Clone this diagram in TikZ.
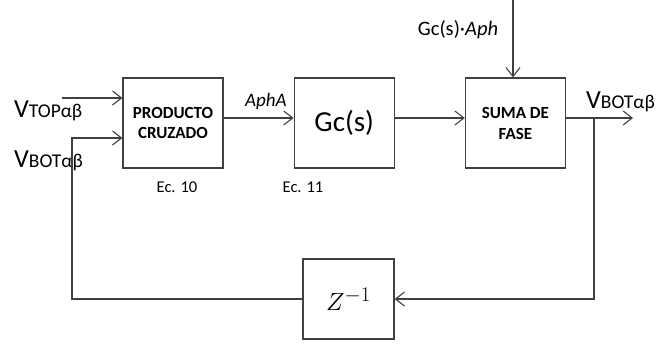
\documentclass[tikz,border=0pt]{standalone}
\usepackage{fontspec}
\setmainfont{Carlito}
\usetikzlibrary{positioning,arrows.meta}
\newcommand{\vsig}[1]{{\fontsize{26}{26}\selectfont V}{\fontsize{19.5}{19.5}\selectfont #1αβ}}

\begin{document}
\begin{tikzpicture}[x=1pt,y=-1pt,
  line/.style={draw=black!75, line width=1.2pt},
  sig/.style={line, -{Straight Barb[length=9pt,width=14pt,line width=1.1pt]}},
  block/.style={line, fill=white, minimum width=100pt, minimum height=90pt, inner sep=0pt, align=center},
  lbl/.style={inner sep=0pt}]
\useasboundingbox (0,0) rectangle (671,344);
\node[block, font=\bfseries\fontsize{17}{20}\selectfont] (cruz) at (173,123) {PRODUCTO\\CRUZADO};
  \node[block, right=70pt of cruz, font=\fontsize{29}{29}\selectfont] (gcs) {Gc(s)};
  \node[block, right=70pt of gcs, font=\bfseries\fontsize{17}{21}\selectfont] (suma) {SUMA DE\\FASE};
  \node[block, minimum width=91pt, minimum height=80pt, font=\fontsize{28}{28}\selectfont] (zinv) at (348.5,299) {$Z^{-1}$};
\node[lbl, font=\fontsize{16.5}{16.5}\selectfont] (ec10) at (177,187) {Ec. 10};
  \node[lbl, font=\fontsize{16.5}{16.5}\selectfont] (ec11) at (303,187) {Ec. 11};
\coordinate (vtop) at (62,98);
  \coordinate (fb) at (72,138);
  \coordinate (tap) at (594,118);
  \coordinate (vout) at (633,118);
  \coordinate (gin) at (513,0);
\node[lbl, anchor=west] (vtoplbl) at (14,111) {\vsig{TOP}};
  \node[lbl, anchor=west] (vbotlbl) at (14,161) {\vsig{BOT}};
  \node[lbl, anchor=west] (voutlbl) at (586,102) {\vsig{BOT}};
  \node[lbl, anchor=south west, font=\itshape\fontsize{19}{19}\selectfont] (aphlbl) at (245,110) {AphA};
  \node[lbl, font=\fontsize{20.5}{20.5}\selectfont] (ginlbl) at (458,30) {Gc(s)·\textit{Aph}};
\draw[sig] (vtop) -- (vtop -| cruz.west);
  \draw[sig] (zinv.west) -| (fb) -- (fb -| cruz.west);
  \draw[sig] (cruz.east |- tap) -- (gcs.west |- tap);
  \draw[sig] (gcs.east |- tap) -- (suma.west |- tap);
  \draw[sig] (suma.east |- tap) -- (vout);
  \draw[sig] (tap) |- (zinv.east);
  \draw[sig] (gin) -- (gin |- suma.north);
\end{tikzpicture}
\end{document}
